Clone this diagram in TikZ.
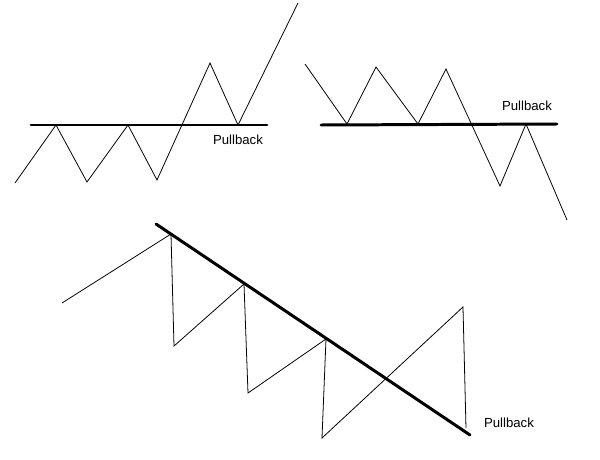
\documentclass[tikz,border=0pt]{standalone}
\usepackage{fontspec}
\setmainfont{Liberation Sans}
\usetikzlibrary{positioning}

\begin{document}
\begin{tikzpicture}[
      x=0.02cm, y=-0.02cm,
      level/.style={line width=1.7pt, line cap=round},
      price/.style={line width=0.45pt, line join=miter},
      lab/.style={font=\fontsize{7.5}{9}\selectfont, inner sep=0pt}
    ]
    \useasboundingbox (0,0) rectangle (600,460);

    % breakout up
    \coordinate (upL) at (31,125);
    \coordinate (upR) at (267,125);
    \coordinate (u0) at (15,183);
    \coordinate (u1) at (56,125);
    \coordinate (u2) at (87,182);
    \coordinate (u3) at (128,125);
    \coordinate (u4) at (157,180);
    \coordinate (u5) at (210,63);
    \coordinate (u6) at (238,125);
    \coordinate (u7) at (298,3);
    \node[lab] (pbup) at (238,140) {Pullback};

    % breakout down
    \coordinate (dnL) at (321,125);
    \coordinate (dnR) at (557,124);
    \coordinate (d0) at (305,64);
    \coordinate (d1) at (347,124);
    \coordinate (d2) at (376,67);
    \coordinate (d3) at (418,124);
    \coordinate (d4) at (446,69);
    \coordinate (d5) at (500,186);
    \coordinate (d6) at (526,124);
    \coordinate (d7) at (567,220);
    \node[lab] (pbdn) at (527,106) {Pullback};

    % trendline break
    \coordinate (trA) at (156,224);
    \coordinate (trB) at (470,435);
    \coordinate (t0) at (62,303);
    \coordinate (t1) at (171,234);
    \coordinate (t2) at (174,346);
    \coordinate (t3) at (244,284);
    \coordinate (t4) at (248,393);
    \coordinate (t5) at (326,339);
    \coordinate (t6) at (322,438);
    \coordinate (t7) at (463,307);
    \coordinate (t8) at (466,428);
    \node[lab] (pbtr) at (509,423) {Pullback};

    \draw[level] (upL) -- (upR);
    \draw[price] (u0) -- (u1) -- (u2) -- (u3) -- (u4) -- (u5) -- (u6) -- (u7);

    \draw[level] (dnL) -- (dnR);
    \draw[price] (d0) -- (d1) -- (d2) -- (d3) -- (d4) -- (d5) -- (d6) -- (d7);

    \draw[level] (trA) -- (trB);
    \draw[price] (t0) -- (t1) -- (t2) -- (t3) -- (t4) -- (t5) -- (t6) -- (t7) -- (t8);
\end{tikzpicture}
\end{document}
